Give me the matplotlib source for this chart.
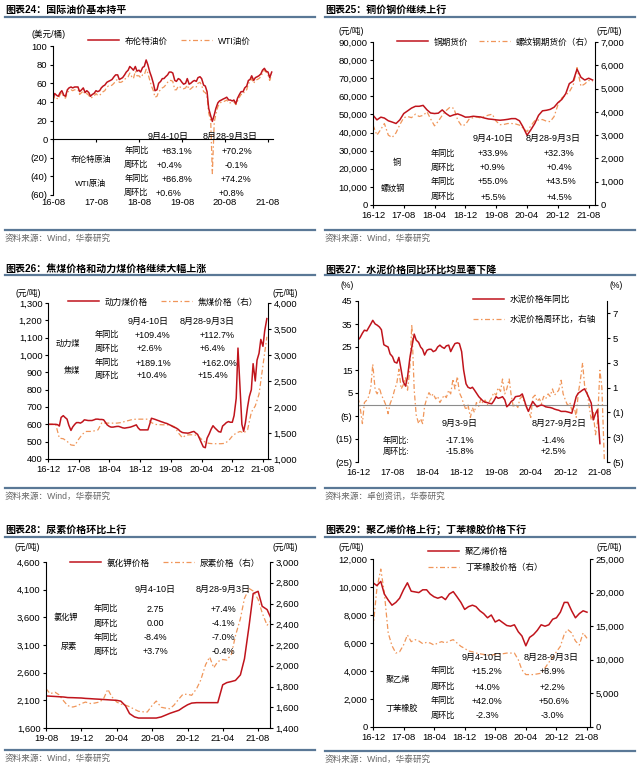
import numpy as np
import pandas as pd
import matplotlib
matplotlib.use('Agg')
import matplotlib.pyplot as plt
from matplotlib.lines import Line2D
from matplotlib.ticker import FuncFormatter

plt.rcParams['font.family'] = ['Liberation Sans', 'Noto Sans CJK SC']
plt.rcParams['axes.unicode_minus'] = False

# ---- data ----
# fig 24: oil, semi-monthly from 2016-08
brent = [43, 49, 47, 46, 50, 52, 47, 46, 53, 55,
         56, 55, 56, 56, 56, 51, 53, 55, 50, 52, 50, 46, 48, 49, 52, 51, 52, 55, 57, 58, 61, 62, 63, 64,
         67, 69, 69, 64, 65, 66, 69, 72, 74, 78, 76, 74, 78, 73, 74, 72, 77, 78, 85, 80, 72, 67, 60, 52,
         53, 60, 62, 65, 65, 67, 69, 72, 72, 71, 63, 62, 65, 64, 61, 59, 60, 65, 59, 60, 62, 63, 62, 66,
         67, 65, 58, 57, 51, 33, 25, 19, 26, 33, 39, 41, 42, 43, 44, 45, 42, 42, 41, 42, 38, 44, 48, 51,
         51, 55, 57, 63, 64, 68, 63, 66, 67, 68, 70, 74, 76, 73, 72, 66, 72]
wti = [41, 46, 44, 43, 48, 50, 45, 44, 50, 52,
       53, 52, 53, 53, 53, 48, 50, 52, 48, 49, 47, 44, 45, 46, 49, 47, 47, 49, 51, 52, 56, 57, 57, 58,
       60, 63, 64, 61, 61, 62, 64, 66, 67, 71, 67, 65, 73, 68, 68, 66, 69, 69, 75, 71, 63, 57, 52, 45,
       46, 51, 53, 55, 56, 58, 61, 63, 63, 62, 53, 53, 57, 56, 55, 54, 55, 58, 53, 54, 56, 57, 56, 60,
       61, 58, 51, 50, 46, 28, 20, -37, 18, 27, 35, 38, 40, 40, 41, 42, 39, 39, 40, 40, 37, 41, 45, 48,
       48, 52, 53, 60, 61, 65, 60, 63, 64, 65, 67, 71, 74, 72, 69, 63, 69]
oil_ticks = ['16-08', '17-08', '18-08', '19-08', '20-08', '21-08']

# fig 25: copper (left) and rebar (right), monthly from 2016-12
copper = [49600, 47000, 48500, 48000, 46500, 45800, 45000, 47000, 50500, 52000, 53500, 54500,
          54500, 55000, 52500, 50800, 50500, 50700, 52500, 50500, 49000, 49800, 50300, 49500,
          48500, 48600, 49000, 48800, 48600, 48000, 47500, 47300, 47000, 46800, 47000, 47300,
          47700, 47700, 46500, 43000, 38500, 41500, 45000, 49500, 52000, 52300, 52800, 54000,
          56500, 58300, 61500, 67000, 68500, 75000, 70500, 69000, 70000, 69000]
rebar = [3430, 3000, 3250, 3500, 3000, 2900, 3100, 3450, 3750, 3800, 3750, 3900,
         3800, 3850, 4000, 3700, 3400, 3600, 3850, 4050, 4200, 4150, 3650, 3400,
         3450, 3700, 3750, 3780, 3740, 3800, 3860, 3900, 3600, 3450, 3460, 3500,
         3500, 3480, 3430, 3300, 3150, 3400, 3620, 3650, 3670, 3600, 3580, 3800,
         4300, 4600, 4720, 4860, 5150, 5900, 5100, 5200, 5350, 5300]
ticks8 = ['16-12', '17-08', '18-04', '18-12', '19-08', '20-04', '20-12', '21-08']

# fig 26: thermal coal semi-monthly, coking coal monthly, from 2016-12
thermal = [600, 600, 600, 600, 600, 598, 590, 640, 650, 640, 630, 595, 565, 585, 600, 610, 610, 607,
           615, 626, 624, 622, 622, 622, 626, 630, 630, 628, 628, 626, 612, 597, 588, 584, 584, 586,
           588, 588, 584, 580, 578, 580, 582, 584, 588, 592, 597, 580, 568, 568, 568, 568, 568, 600,
           635, 632, 628, 624, 620, 616, 612, 608, 605, 600, 594, 588, 582, 578, 570, 560, 553, 551,
           550, 549, 552, 556, 559, 550, 542, 520, 492, 470, 465, 520, 545, 570, 592, 580, 568, 558,
           555, 590, 600, 610, 616, 612, 612, 650, 750, 1040, 800, 600, 560, 610, 700, 760, 800, 950,
           850, 970, 1010, 1090, 1050, 1140, 1210]
coking = [1670, 1670, 1660, 1400, 1390, 1340, 1270, 1260, 1380, 1480, 1530, 1530,
          1540, 1560, 1700, 1690, 1690, 1690, 1690, 1700, 1720, 1740, 1760, 1766,
          1766, 1766, 1766, 1700, 1665, 1660, 1658, 1658, 1650, 1620, 1500, 1410,
          1460, 1466, 1466, 1450, 1380, 1320, 1300, 1294, 1294, 1294, 1300, 1350,
          1440, 1500, 1530, 1500, 1560, 1900, 2020, 2250, 2800, 3350]

# fig 27: cement yoy (left) and week-on-week (right), semi-monthly from 2016-12
cement_yoy = [28, 29, 31, 32.3, 32, 33.5, 35, 36.6, 35, 34.5, 33.7, 32.5, 26, 25.5, 25, 22, 20.8, 18.5,
              18, 20.5, 15, 10, 8, 12, 20, 25, 30.6, 28, 27, 25, 24, 21.5, 23.6, 24, 24, 23,
              23.5, 25, 25.8, 25, 24.4, 25.5, 25.8, 23, 25, 26.5, 26.8, 26.5, 23, 15, 9, 7.5, 7, 7.5,
              6.3, 5, 3.4, 2.5, 1.5, 1.0, 0.8, 0.5, 0.3, 1.5, 3.4, 2.7, 3, 3.4, 2, -1, 0, 1.3,
              2.0, 3.4, 3.6, 3.7, 4.6, 2, -1, -3, -0.5, 1.3, 0, -1, -0.5, -0.2, -0.5, -1, -1.2, -1.3,
              -1.6, -2, -2.3, -2.5, -3, -3, -3, -3.2, -3.5, -3.8, 0, 3.4, 4.9, 5.5, 6.3, 6.8, 4.9, 3,
              0.6, -6.7, -4, -2.3, -17]
cement_wow = [0.2, -0.5, -1.9, -0.2, 0.0, 0.3, 1.0, 2.9, 0.8, 0.5, 1.0, 0.4, 0.0, -0.4, -1.1, -0.3,
              0.2, 0.8, 1.4, 2.5, 0.9, 1.2, 1.8, 0.8, 2.5, 6.1, 0.8, -1.2, -1.9, -1.5, -1.9, -0.5,
              0.2, 0.6, 0.3, 0.5, 0.1, 0.3, -0.2, 0.1, 0.4, 0.2, 0.8, 0.5, 1.7, 0.9, 1.9, 0.6,
              0.2, -0.3, -0.8, -0.4, -1.4, -0.6, -1.0, -0.2, -0.5, 0.1, -0.3, 0.0, -0.4, -0.1, 0.2, 0.6,
              0.4, 1.0, 0.7, 1.7, 0.5, 0.9, 1.7, 0.4, -0.6, -0.3, -0.6, 0.1, 0.3, -0.2, -0.5, -0.8,
              -1.4, 0.2, 0.4, -0.1, 0.1, -0.3, 0.3, 0.1, 0.5, 0.3, 0.9, 0.4, 0.6, 0.8, 1.6, 0.5,
              0.0, -0.4, -0.2, -0.8, -0.5, -1.4, 0.5, 1.5, 3.0, 1.2, 0.8, -0.3, -1.6, -1.0, -2.8, -1.8,
              2.4, 1.0, -4.8]

# fig 28: potassium chloride (left) and urea (right), semi-monthly from 2019-08
kcl = [2180, 2175, 2170, 2165, 2160, 2150, 2148, 2145, 2142, 2135, 2130, 2125, 2120, 2115, 2110, 2105,
       2100, 2085, 2000, 1860, 1800, 1780, 1780, 1780, 1780, 1780, 1800, 1830, 1865, 1890, 1920, 1970,
       2020, 2050, 2058, 2058, 2058, 2058, 2058, 2058, 2380, 2420, 2440, 2460, 2560, 2850, 3450, 4030,
       4070, 3800, 3740, 3576]
urea = [1779, 1731, 1745, 1720, 1660, 1615, 1602, 1612, 1635, 1650, 1636, 1640, 1650, 1680, 1773, 1700,
        1650, 1630, 1620, 1605, 1580, 1561, 1556, 1554, 1618, 1660, 1600, 1592, 1586, 1620, 1680, 1725,
        1725, 1715, 1779, 1860, 2010, 2084, 1980, 2040, 2060, 2055, 2110, 2290, 2454, 2650, 2745, 2720,
        2640, 2510, 2390, 2438]
ticks4 = ['19-08', '19-12', '20-04', '20-08', '20-12', '21-04', '21-08']

# fig 29: polyethylene (left) and SBR (right), monthly from 2016-12
pe = [10300, 10100, 10400, 9500, 9070, 8700, 8900, 9200, 9800, 10300, 9700, 9650,
      9600, 9800, 9800, 9500, 9300, 9200, 9300, 9100, 9500, 9670, 9300, 8900,
      8400, 8600, 8700, 8600, 8300, 8100, 7800, 8000, 7500, 7650, 7450, 7250,
      7200, 7300, 6800, 6500, 5800, 6400, 6600, 6900, 7300, 7200, 7300, 7700,
      7800, 8200, 8900, 8900, 8300, 7800, 8100, 8300, 8200]
sbr = [14700, 20600, 23500, 20000, 14000, 12100, 11000, 11200, 12200, 13700, 12700, 13000,
       12800, 12400, 12600, 12500, 12200, 12500, 12700, 12500, 12800, 13000, 12500, 12000,
       11700, 11300, 11200, 11000, 10900, 10800, 10700, 10700, 10800, 10800, 10900, 11000,
       11000, 11000, 10000, 8500, 7800, 7800, 7800, 7900, 8000, 8800, 9600, 10400,
       11200, 12000, 13800, 14500, 14000, 12800, 12200, 14000, 13200]

# ---- layout helpers ----
W, H = 642, 765
RED = '#C0141C'
ORANGE = '#F0965A'
RULE = '#5A7896'
DASH = (0, (4, 2, 1.2, 2))
TXT = 6.5   # numbers in the tables
CJK = 5.9   # row / item names in the tables
TCK = 6.8   # tick labels
LEG = 6.2   # legend / unit text

fig = plt.figure(figsize=(W / 100, H / 100), dpi=100)


def box(l, t, r, b):
    return fig.add_axes([l / W, 1 - b / H, (r - l) / W, (b - t) / H])


def put(s, x, y, size=TXT, ha='center', **kw):
    fig.text(x / W, 1 - y / H, s, fontsize=size, ha=ha, va='center', **kw)


def hline(x0, x1, y, lw=1.6):
    fig.add_artist(Line2D([x0 / W, x1 / W], [1 - y / H, 1 - y / H], color=RULE, lw=lw))


def frame(x0, title, ytitle, yrule, ybottom, source):
    put(title, x0 + 5, ytitle, size=7.2, ha='left', fontweight='bold')
    hline(x0 + 5, x0 + 315, yrule)
    hline(x0 + 5, x0 + 315, ybottom)
    put(source, x0 + 5, ybottom + 8, size=6.2, ha='left', color='#666666')


comma = FuncFormatter(lambda v, p: f'{v:,.0f}')
paren = FuncFormatter(lambda v, p: f'({abs(v):.0f})' if v < 0 else f'{v:.0f}')


def setup(ax, ylim, ystep, fmt, xlabels, xend):
    ax.set_ylim(*ylim)
    ax.set_yticks(np.arange(ylim[0], ylim[1] + 0.01, ystep))
    ax.yaxis.set_major_formatter(fmt)
    ticks = [pd.Timestamp('20' + s + '-01') for s in xlabels]
    ax.set_xlim(ticks[0], pd.Timestamp(xend))
    ax.set_xticks(ticks)
    ax.set_xticklabels(xlabels)
    ax.spines['top'].set_visible(False)
    ax.spines['right'].set_visible(False)
    for s in ax.spines.values():
        s.set_linewidth(0.8)
    ax.tick_params(direction='out', length=2.5, width=0.8, labelsize=TCK, pad=1.5)
    ax.patch.set_visible(False)


def twin(ax, ylim, ystep, fmt):
    t = ax.twinx()
    t.set_ylim(*ylim)
    t.set_yticks(np.arange(ylim[0], ylim[1] + 0.01, ystep))
    t.yaxis.set_major_formatter(fmt)
    for s in ['top', 'left', 'bottom']:
        t.spines[s].set_visible(False)
    t.spines['right'].set_linewidth(0.8)
    t.tick_params(direction='out', length=2.5, width=0.8, labelsize=TCK, pad=1.5)
    ax.set_zorder(t.get_zorder() + 1)
    return t


def legend(ax, labels, x, y, ncol=2, spacing=1.5, rowgap=1.0):
    hs = [Line2D([], [], color=RED, lw=1.1), Line2D([], [], color=ORANGE, lw=0.9, ls=DASH)]
    ax.legend(hs, labels, loc='center left', bbox_to_anchor=(x / W, 1 - y / H),
              bbox_transform=fig.transFigure, ncol=ncol, frameon=False, fontsize=LEG,
              handlelength=3.6, handletextpad=0.7, columnspacing=spacing, borderpad=0,
              borderaxespad=0, labelspacing=rowgap)


def table(rows):
    for s, x, y in rows:
        has_digit = any(c.isdigit() for c in s)
        put(s, x, y, size=TXT if has_digit else CJK)


# ---- fig 24 ----
frame(0, '图表24：国际油价基本持平', 10, 16.5, 230, '资料来源：Wind，华泰研究')
ax = box(53, 46, 273, 195)
ax.plot(pd.date_range('2016-08-01', periods=len(wti), freq='SMS'), wti, color=ORANGE, lw=0.9, ls=DASH)
ax.plot(pd.date_range('2016-08-01', periods=len(brent), freq='SMS'), brent, color=RED, lw=1.1)
setup(ax, (-60, 100), 20, paren, oil_ticks, '2021-09-12')
ax.spines['bottom'].set_position(('data', 0))
ax.tick_params(axis='x', pad=40)
put('(美元/桶)', 49, 34, size=LEG)
legend(ax, ['布伦特油价', 'WTI油价'], 88, 41)
table([('9月4-10日', 168, 136), ('8月28-9月3日', 230, 136),
       ('年同比', 137, 151), ('+83.1%', 177, 151), ('+70.2%', 237, 151),
       ('布伦特原油', 91, 160),
       ('周环比', 136, 165), ('+0.4%', 169, 165), ('-0.1%', 236, 165),
       ('年同比', 137, 179), ('+86.8%', 177, 179), ('+74.2%', 236, 179),
       ('WTI原油', 91, 184),
       ('周环比', 136, 193), ('+0.6%', 169, 193), ('+0.8%', 231, 193)])

# ---- fig 25 ----
frame(320, '图表25：铜价钢价继续上行', 10, 16.5, 230, '资料来源：Wind，华泰研究')
ax = box(373, 42, 595, 205)
ax.plot(pd.date_range('2016-12-01', periods=len(copper), freq='MS'), copper, color=RED, lw=1.1)
setup(ax, (0, 90000), 10000, comma, ticks8, '2021-09-20')
t = twin(ax, (0, 7000), 1000, comma)
t.plot(pd.date_range('2016-12-01', periods=len(rebar), freq='MS'), rebar, color=ORANGE, lw=0.9, ls=DASH)
put('(元/吨)', 351, 31, size=LEG)
put('(元/吨)', 609, 31, size=LEG)
legend(ax, ['铜期货价', '螺纹钢期货价（右）'], 397, 42, spacing=1.2)
table([('9月4-10日', 493, 138), ('8月28-9月3日', 553, 138),
       ('年同比', 443, 154), ('+33.9%', 493, 154), ('+32.3%', 559, 154),
       ('铜', 397, 163),
       ('周环比', 443, 168), ('+0.9%', 492, 168), ('+0.4%', 559, 168),
       ('年同比', 443, 182), ('+55.0%', 493, 182), ('+43.5%', 561, 182),
       ('螺纹钢', 393, 189),
       ('周环比', 443, 197), ('+5.5%', 493, 197), ('+4.5%', 559, 197)])

# ---- fig 26 ----
frame(0, '图表26：焦煤价格和动力煤价格继续大幅上涨', 269, 275, 488, '资料来源：Wind，华泰研究')
ax = box(48, 303, 268, 459)
ax.plot(pd.date_range('2016-12-01', periods=len(thermal), freq='SMS'), thermal, color=RED, lw=1.1)
setup(ax, (400, 1300), 100, comma, ticks8, '2021-09-10')
t = twin(ax, (1000, 4000), 500, comma)
t.plot(pd.date_range('2016-12-01', periods=len(coking), freq='MS'), coking, color=ORANGE, lw=0.9, ls=DASH)
put('(元/吨)', 28, 293, size=LEG)
put('(元/吨)', 285, 293, size=LEG)
legend(ax, ['动力煤价格', '焦煤价格（右）'], 68, 302)
table([('9月4-10日', 148, 321), ('8月28-9月3日', 207, 321),
       ('年同比', 107, 335), ('+109.4%', 152, 335), ('+112.7%', 217, 335),
       ('动力煤', 68, 344),
       ('周环比', 107, 349), ('+2.6%', 150, 349), ('+6.4%', 213, 349),
       ('年同比', 107, 363), ('+189.1%', 153, 363), ('+162.0%', 220, 363),
       ('焦煤', 72, 371),
       ('周环比', 107, 376), ('+10.4%', 152, 376), ('+15.4%', 213, 376)])

# ---- fig 27 ----
frame(320, '图表27：水泥价格同比环比均显著下降', 270, 275, 488, '资料来源：卓创资讯，华泰研究')
ax = box(358, 301, 607, 462)
ax.plot(pd.date_range('2016-12-01', periods=len(cement_yoy), freq='SMS'), cement_yoy, color=RED, lw=1.1)
setup(ax, (-25, 45), 10, paren, ticks8, '2021-09-20')
ax.axhline(0, color='#8C8C8C', lw=0.8, zorder=0)
ax.spines['bottom'].set_visible(False)
ax.tick_params(axis='x', length=0, pad=4)
t = twin(ax, (-5, 8), 2, paren)
t.set_yticks(np.arange(-5, 8, 2))
t.plot(pd.date_range('2016-12-01', periods=len(cement_wow), freq='SMS'), cement_wow, color=ORANGE, lw=0.9, ls=DASH)
put('(%)', 347, 286, size=LEG)
put('(%)', 616, 286, size=LEG)
legend(ax, ['水泥价格年同比', '水泥价格周环比，右轴'], 473, 309.5, ncol=1, rowgap=1.2)
table([('9月3-9日', 460, 423), ('8月27-9月2日', 559, 423),
       ('年同比:', 396, 441), ('-17.1%', 460, 441), ('-1.4%', 553, 441),
       ('周环比:', 396, 452), ('-15.8%', 460, 452), ('+2.5%', 553, 452)])

# ---- fig 28 ----
frame(0, '图表28：尿素价格环比上行', 530, 537, 750, '资料来源：Wind，华泰研究')
ax = box(46, 562, 270, 728)
ax.plot(pd.date_range('2019-08-01', periods=len(kcl), freq='SMS'), kcl, color=RED, lw=1.1)
setup(ax, (1600, 4600), 500, comma, ticks4, '2021-09-11')
t = twin(ax, (1400, 3000), 200, comma)
t.plot(pd.date_range('2019-08-01', periods=len(urea), freq='SMS'), urea, color=ORANGE, lw=0.9, ls=DASH)
put('(元/吨)', 27, 548, size=LEG)
put('(元/吨)', 285, 548, size=LEG)
legend(ax, ['氯化钾价格', '尿素价格（右）'], 70, 563)
table([('9月4-10日', 155, 589), ('8月28-9月3日', 223, 589),
       ('年同比', 106, 609), ('2.75', 155, 609), ('+7.4%', 223, 609),
       ('氯化钾', 66, 618),
       ('周环比', 106, 624), ('0.00', 155, 624), ('-4.1%', 223, 624),
       ('年同比', 106, 638), ('-8.4%', 155, 638), ('-7.0%', 223, 638),
       ('尿素', 69, 647),
       ('周环比', 106, 652), ('+3.7%', 155, 652), ('-0.4%', 223, 652)])

# ---- fig 29 ----
frame(320, '图表29：聚乙烯价格上行；丁苯橡胶价格下行', 530, 537, 751, '资料来源：Wind，华泰研究')
ax = box(373, 559, 590, 727)
ax.plot(pd.date_range('2016-12-01', periods=len(pe), freq='MS'), pe, color=RED, lw=1.1)
setup(ax, (0, 12000), 2000, comma, ticks8, '2021-08-25')
t = twin(ax, (0, 25000), 5000, comma)
t.plot(pd.date_range('2016-12-01', periods=len(sbr), freq='MS'), sbr, color=ORANGE, lw=0.9, ls=DASH)
put('(元/吨)', 351, 547, size=LEG)
put('(元/吨)', 609, 547, size=LEG)
legend(ax, ['聚乙烯价格', '丁苯橡胶价格（右）'], 428, 559.5, ncol=1, rowgap=0.9)
table([('9月4-10日', 482, 657), ('8月28-9月3日', 551, 657),
       ('年同比', 443, 671), ('+15.2%', 487, 671), ('+8.9%', 552, 671),
       ('聚乙烯', 398, 680),
       ('周环比', 443, 687), ('+4.0%', 487, 687), ('+2.2%', 552, 687),
       ('年同比', 443, 701), ('+42.0%', 487, 701), ('+50.6%', 554, 701),
       ('丁苯橡胶', 402, 709),
       ('周环比', 443, 716), ('-2.3%', 487, 716), ('-3.0%', 552, 716)])

fig.savefig('out.png', dpi=100)
